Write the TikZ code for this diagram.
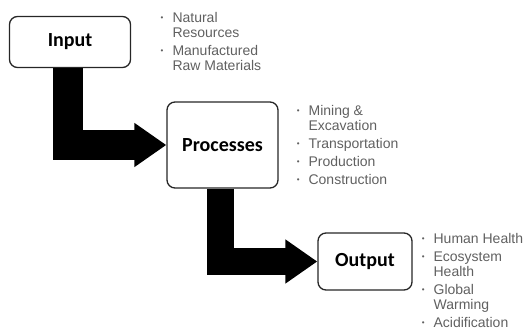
\documentclass[tikz,border=0pt]{standalone}
\usepackage{fontspec}
\setmainfont{Liberation Sans}
\newfontfamily\boxfont{Carlito}
\usetikzlibrary{arrows.meta,positioning}

\definecolor{listgrey}{HTML}{606060}
\newcommand{\bul}{\raisebox{2pt}{\fontsize{8}{8}\selectfont\textbullet}}

\begin{document}
\begin{tikzpicture}[x=1pt,y=-1pt]

\tikzset{stagebox/.style={draw=black!85,line width=1.3pt,rounded corners=8pt,inner sep=0pt,
  font=\boxfont\bfseries\fontsize{20}{22}\selectfont},
itemlist/.style={anchor=north west,inner sep=0pt,text=listgrey,font=\fontsize{14}{15}\selectfont},
bigarrow/.style={line width=30pt,-{Triangle[length=32pt,width=42pt]}}}

\useasboundingbox (0,0) rectangle (532,332);

% Stage boxes
\node[stagebox,minimum width=121pt,minimum height=51pt] (inp) at (70,42) {Input};
\node[stagebox,minimum width=111pt,minimum height=86pt] (proc) at (222.5,145) {Processes};
\node[stagebox,minimum width=94pt,minimum height=57pt] (outp) at (365,261.5) {Output};

% Item lists
\node[itemlist] (inlist) at (160.5,11.5) {\begin{tabular}{@{}c@{\hspace{9pt}}l@{}}
\bul & Natural\\ & Resources\\[3pt]
\bul & Manufactured\\ & Raw Materials
\end{tabular}};
\node[itemlist] (proclist) at (296.6,104.5) {\begin{tabular}{@{}c@{\hspace{9pt}}l@{}}
\bul & Mining \&\\ & Excavation\\[3pt]
\bul & Transportation\\[3pt]
\bul & Production\\[3pt]
\bul & Construction
\end{tabular}};
\node[itemlist] (outlist) at (421.6,232.5) {\begin{tabular}{@{}c@{\hspace{9pt}}l@{}}
\bul & Human Health\\[3pt]
\bul & Ecosystem\\ & Health\\[3pt]
\bul & Global\\ & Warming\\[3pt]
\bul & Acidification
\end{tabular}};

% Flow arrows
\coordinate (shaftA) at (68,0);
\coordinate (shaftB) at (220,0);
\draw[bigarrow] (inp.south -| shaftA) |- (proc.west);
\draw[bigarrow,line width=27pt] (proc.south -| shaftB) |- (outp.west);

\end{tikzpicture}
\end{document}
